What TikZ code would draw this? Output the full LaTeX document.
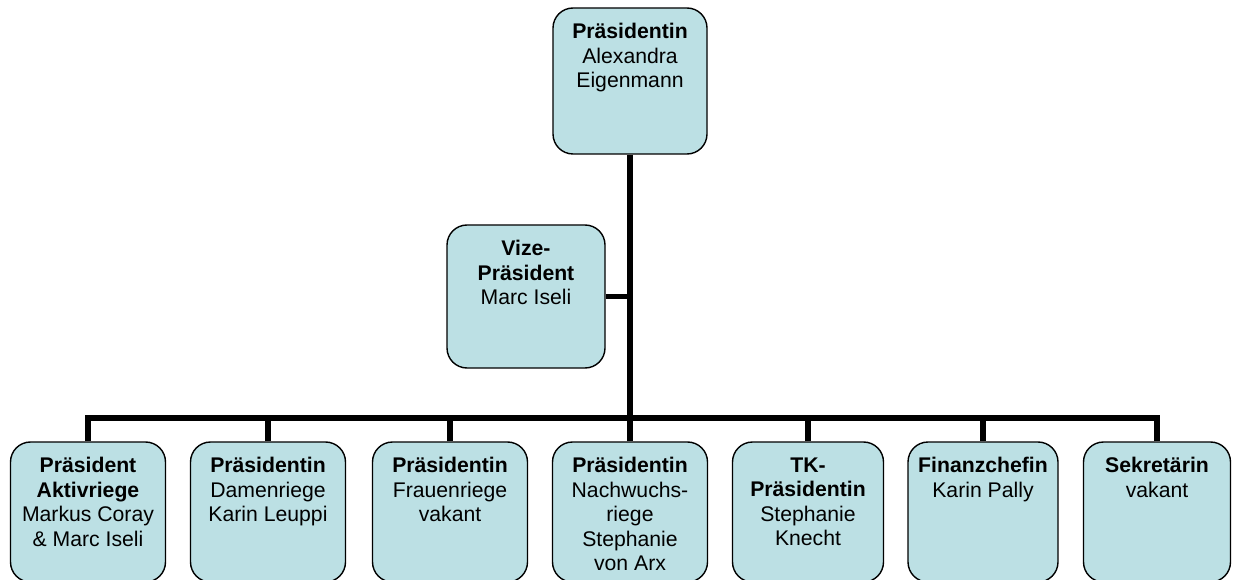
\documentclass[tikz,border=0pt]{standalone}
\usepackage{fontspec}
\setmainfont{Liberation Sans}
\definecolor{boxfill}{RGB}{188,224,228}
\begin{document}
\begin{tikzpicture}[x=1pt,y=-1pt,
  box/.style={draw=black, line width=1.4pt, fill=boxfill, rounded corners=20pt,
    minimum width=155pt, inner sep=0pt},
  lbl/.style={anchor=north, align=center, inner sep=0pt, yshift=-16pt,
    font=\fontsize{21.2}{24.5}\selectfont},
  conn/.style={line width=5.2pt, draw=black}]
\useasboundingbox (0,0) rectangle (1256,580);
% nodes
\node[box, minimum width=154pt, minimum height=146pt, label={[lbl]north:{\textbf{Präsidentin}\\Alexandra\\Eigenmann}}] (top) at (630,81) {};
\node[box, minimum width=158pt, minimum height=143pt, label={[lbl]north:{\textbf{Vize-}\\\textbf{Präsident}\\Marc Iseli}}] (vice) at (526,296.5) {};
\coordinate (bus) at (630,418);
\node[box, minimum height=140pt, label={[lbl]north:{\textbf{Präsident}\\\textbf{Aktivriege}\\Markus Coray\\\& Marc Iseli}}] (b1) at (88,512) {};
\node[box, minimum height=140pt, label={[lbl]north:{\textbf{Präsidentin}\\Damenriege\\Karin Leuppi}}] (b2) at (268,512) {};
\node[box, minimum height=140pt, label={[lbl]north:{\textbf{Präsidentin}\\Frauenriege\\vakant}}] (b3) at (450,512) {};
\node[box, minimum height=140pt, label={[lbl]north:{\textbf{Präsidentin}\\Nachwuchs-\\riege\\Stephanie\\von Arx}}] (b4) at (630,512) {};
\node[box, minimum width=151pt, minimum height=140pt, label={[lbl]north:{\textbf{TK-}\\\textbf{Präsidentin}\\Stephanie\\Knecht}}] (b5) at (808,512) {};
\node[box, minimum width=150pt, minimum height=140pt, label={[lbl]north:{\textbf{Finanzchefin}\\Karin Pally}}] (b6) at (983,512) {};
\node[box, minimum width=147pt, minimum height=140pt, label={[lbl]north:{\textbf{Sekretärin}\\vakant}}] (b7) at (1157,512) {};
% connectors
\draw[conn] (top.south) -- (bus);
\draw[conn] (vice.east) -- (vice.east -| top.south);
\draw[conn, line cap=rect] (b1.north |- bus) -- (b7.north |- bus);
\foreach \b in {b1,b2,b3,b4,b5,b6,b7}{
  \draw[conn] (\b.north) -- (\b.north |- bus);
}
\end{tikzpicture}
\end{document}
